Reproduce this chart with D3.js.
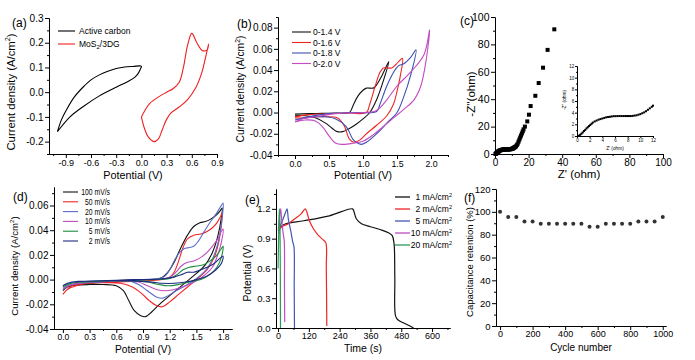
<!DOCTYPE html>
<html><head><meta charset="utf-8">
<script src="https://cdn.jsdelivr.net/npm/d3@7"></script>
<style>
body{margin:0;background:#fff}
svg text{font-family:"Liberation Sans",Arial,sans-serif;fill:#000}
.domain,.tick line{stroke:#000;stroke-width:1}
</style>
</head><body>
<svg id="chart" width="695" height="360"></svg>
<script>
// ---------------- DATA ----------------
// (a) CV curves [potential V, current density A/cm2]
const aNames = ["Active carbon", "MoS2/3DG"];
const aCarbon = [[-1.0,-0.16],[-0.95,-0.11],[-0.89,-0.07],[-0.8,-0.02],[-0.69,0.022],[-0.6,0.05],[-0.5,0.07],[-0.4,0.085],[-0.3,0.096],[-0.2,0.102],[-0.1,0.104],[0.0,0.105],
  [-0.01,0.095],[-0.04,0.075],[-0.08,0.06],[-0.15,0.045],[-0.3,0.02],[-0.5,-0.015],[-0.7,-0.06],[-0.85,-0.1],[-1.0,-0.16]];
const aMoS2 = [[0.0,-0.1],[0.03,-0.14],[0.08,-0.18],[0.15,-0.2],[0.2,-0.19],[0.25,-0.15],[0.3,-0.11],[0.35,-0.085],[0.45,-0.06],[0.55,-0.03],[0.65,0.02],[0.72,0.08],[0.77,0.15],[0.8,0.195],
  [0.78,0.17],[0.72,0.17],[0.66,0.2],[0.6,0.238],[0.55,0.19],[0.5,0.1],[0.45,0.04],[0.38,0.015],[0.3,0.0],[0.2,-0.02],[0.1,-0.045],[0.04,-0.075],[0.0,-0.1]];
// (b) CV at different windows
const bNames = ["0-1.4 V", "0-1.6 V", "0-1.8 V", "0-2.0 V"];
const b14 = [[0,-0.0015],[0.2,-0.001],[0.4,-0.0008],[0.6,-0.0005],[0.8,0.0],[0.85,0.006],[0.92,0.015],[1.0,0.021],[1.05,0.023],[1.15,0.023],[1.2,0.026],[1.28,0.035],[1.38,0.048],
  [1.3,0.03],[1.2,0.012],[1.1,0.0],[1.0,-0.006],[0.9,-0.011],[0.8,-0.015],[0.7,-0.018],[0.62,-0.018],[0.55,-0.015],[0.45,-0.01],[0.3,-0.005],[0.15,-0.003],[0.0,-0.003]];
const b16 = [[0,-0.004],[0.2,-0.002],[0.5,-0.001],[0.8,-0.0005],[1.05,0.0],[1.1,0.008],[1.18,0.025],[1.25,0.038],[1.3,0.042],[1.42,0.042],[1.48,0.045],[1.58,0.051],
  [1.55,0.035],[1.5,0.02],[1.45,0.008],[1.35,-0.003],[1.2,-0.012],[1.05,-0.02],[0.95,-0.026],[0.87,-0.028],[0.8,-0.025],[0.72,-0.012],[0.62,-0.005],[0.45,-0.004],[0.3,-0.004],[0.15,-0.005],[0.0,-0.005]];
const b18 = [[0,-0.007],[0.2,-0.004],[0.5,-0.001],[0.9,0.0],[1.2,0.001],[1.25,0.008],[1.35,0.025],[1.45,0.038],[1.52,0.044],[1.6,0.046],[1.7,0.052],[1.78,0.059],
  [1.7,0.035],[1.6,0.015],[1.5,0.0],[1.35,-0.01],[1.2,-0.02],[1.05,-0.028],[0.97,-0.03],[0.9,-0.028],[0.85,-0.025],[0.75,-0.013],[0.6,-0.006],[0.45,-0.004],[0.3,-0.004],[0.15,-0.005],[0.0,-0.007]];
const b20 = [[0,-0.009],[0.1,-0.006],[0.3,-0.004],[0.6,-0.001],[1.0,0.0],[1.2,0.002],[1.35,0.012],[1.5,0.025],[1.7,0.038],[1.9,0.055],[1.98,0.078],
  [1.93,0.05],[1.85,0.025],[1.75,0.012],[1.6,0.003],[1.45,-0.005],[1.3,-0.013],[1.15,-0.021],[1.0,-0.027],[0.85,-0.029],[0.7,-0.03],[0.6,-0.029],[0.5,-0.022],[0.4,-0.013],[0.3,-0.008],[0.15,-0.007],[0.0,-0.009]];
// (c) Nyquist plot [Z', -Z'']
const eisRe = [0.3,0.5,0.7,0.9,1.1,1.3,1.5,1.7,1.9,2.1,2.3,2.5,2.8,3.1,3.4,3.7,4.0,4.3,4.6,4.9,5.2,5.5,5.8,6.1,6.4,6.7,7.0,7.3,7.6,7.9,8.2,8.5,8.8,9.1,9.4,9.7,10.0,10.3,10.6,10.9,11.2,11.5,11.8,12.0,
  12.5,13.0,13.5,14.0,14.5,15.0,15.5,16.0,16.5,17.0,17.8,19.2,20.2,21.2,24.0,26.0,28.6,31.3,35.3];
const eisIm = [0.05,0.2,0.4,0.6,0.85,1.05,1.3,1.5,1.7,1.9,2.1,2.3,2.5,2.65,2.8,2.9,3.0,3.1,3.2,3.25,3.3,3.35,3.4,3.4,3.42,3.42,3.42,3.42,3.42,3.42,3.42,3.42,3.45,3.5,3.55,3.65,3.75,3.9,4.05,4.25,4.5,4.75,5.0,5.2,
  5.6,6.5,7.5,9.0,10.5,12.0,13.5,15.0,16.5,18.0,20.0,23.8,28.7,35.0,42.5,51.8,63.0,76.0,91.0];
// (d) CV at different scan rates
const dNames = ["100 mV/s", "50 mV/s", "20 mV/s", "10 mV/s", "5 mV/s", "2 mV/s"];
const d100 = [[0,-0.009],[0.05,-0.006],[0.15,-0.004],[0.3,-0.003],[0.5,-0.002],[0.7,-0.001],[0.9,0.0],[1.05,0.0005],[1.12,0.002],[1.18,0.006],[1.25,0.014],[1.32,0.025],[1.4,0.036],[1.47,0.043],[1.54,0.046],[1.6,0.047],[1.66,0.049],[1.72,0.052],[1.77,0.056],[1.79,0.058],
  [1.78,0.05],[1.74,0.035],[1.68,0.022],[1.6,0.012],[1.5,0.005],[1.4,-0.001],[1.3,-0.007],[1.2,-0.013],[1.1,-0.019],[1.0,-0.026],[0.93,-0.03],[0.87,-0.029],[0.8,-0.025],[0.74,-0.017],[0.68,-0.009],[0.6,-0.005],[0.45,-0.004],[0.3,-0.004],[0.15,-0.0045],[0.05,-0.006],[0,-0.009]];
const d50 = [[0,-0.012],[0.05,-0.008],[0.15,-0.005],[0.3,-0.003],[0.6,-0.002],[0.9,-0.001],[1.1,0.0],[1.2,0.002],[1.25,0.006],[1.3,0.015],[1.35,0.026],[1.4,0.033],[1.47,0.036],[1.55,0.037],[1.62,0.039],[1.68,0.042],[1.73,0.046],[1.77,0.051],[1.79,0.054],
  [1.78,0.045],[1.75,0.03],[1.7,0.018],[1.62,0.008],[1.5,0.0],[1.4,-0.006],[1.3,-0.012],[1.2,-0.018],[1.12,-0.022],[1.05,-0.021],[0.97,-0.017],[0.88,-0.011],[0.78,-0.006],[0.65,-0.003],[0.45,-0.0025],[0.25,-0.003],[0.1,-0.005],[0,-0.012]];
const d20 = [[0,-0.008],[0.1,-0.004],[0.3,-0.002],[0.6,-0.001],[0.9,0.0],[1.1,0.001],[1.15,0.003],[1.2,0.008],[1.25,0.015],[1.3,0.021],[1.36,0.025],[1.42,0.026],[1.47,0.027],[1.52,0.031],[1.58,0.038],[1.65,0.046],[1.72,0.053],[1.78,0.06],[1.8,0.062],
  [1.79,0.05],[1.76,0.035],[1.7,0.02],[1.62,0.009],[1.52,0.002],[1.4,-0.004],[1.25,-0.01],[1.12,-0.015],[1.05,-0.014],[0.95,-0.009],[0.85,-0.004],[0.75,-0.001],[0.6,-0.001],[0.4,-0.002],[0.2,-0.003],[0.05,-0.005],[0,-0.008]];
const d10 = [[0,-0.007],[0.1,-0.004],[0.3,-0.002],[0.6,-0.001],[0.9,0.0],[1.1,0.0005],[1.2,0.002],[1.27,0.006],[1.33,0.011],[1.4,0.014],[1.47,0.015],[1.55,0.018],[1.62,0.022],[1.68,0.027],[1.74,0.033],[1.78,0.039],[1.8,0.041],
  [1.78,0.03],[1.74,0.02],[1.68,0.01],[1.6,0.004],[1.5,-0.001],[1.38,-0.005],[1.25,-0.008],[1.15,-0.009],[1.05,-0.008],[0.95,-0.005],[0.85,-0.002],[0.7,-0.001],[0.5,-0.0015],[0.3,-0.002],[0.1,-0.004],[0,-0.007]];
const d5 = [[0,-0.006],[0.1,-0.003],[0.3,-0.0015],[0.7,-0.0005],[1.0,0.0],[1.2,0.001],[1.28,0.004],[1.35,0.008],[1.42,0.01],[1.5,0.011],[1.58,0.012],[1.65,0.015],[1.72,0.019],[1.77,0.024],[1.8,0.027],
  [1.78,0.018],[1.73,0.01],[1.65,0.004],[1.55,0.0],[1.42,-0.002],[1.3,-0.004],[1.18,-0.005],[1.08,-0.004],[0.95,-0.002],[0.8,-0.001],[0.5,-0.001],[0.25,-0.002],[0.08,-0.003],[0,-0.006]];
const d2 = [[0,-0.005],[0.1,-0.002],[0.4,-0.001],[0.8,0.0],[1.1,0.0005],[1.25,0.002],[1.33,0.004],[1.4,0.006],[1.47,0.006],[1.55,0.008],[1.62,0.01],[1.7,0.013],[1.76,0.017],[1.8,0.019],
  [1.78,0.013],[1.72,0.008],[1.62,0.003],[1.5,0.0],[1.38,-0.002],[1.25,-0.003],[1.12,-0.003],[1.0,-0.002],[0.8,-0.001],[0.5,-0.001],[0.2,-0.0015],[0.05,-0.003],[0,-0.005]];
// (e) galvanostatic charge/discharge [time s, potential V]
const eNames = ["1 mA/cm", "2 mA/cm", "5 mA/cm", "10 mA/cm", "20 mA/cm"];
const e1 = [[2,0.98],[10,1.02],[30,1.05],[100,1.08],[200,1.13],[290,1.2],[296,1.17],[305,1.1],[325,1.05],[360,1.02],[400,0.99],[430,0.96],[445,0.93],[452,0.85],[455,0.5],[458,0.12],[468,0.08],[490,0.05],[510,0.025],[528,0.0]];
const e2 = [[2,0.98],[15,1.02],[40,1.05],[65,1.1],[90,1.15],[106,1.2],[112,1.17],[122,1.08],[138,1.0],[158,0.93],[175,0.89],[186,0.86],[188,0.6],[190,0.02]];
const e5 = [[2,0.95],[10,1.04],[20,1.1],[30,1.17],[35,1.2],[40,1.1],[50,0.97],[57,0.87],[62,0.82],[63,0.4],[64,0.0]];
const e10 = [[1,0.98],[5,1.1],[10,1.2],[14,1.1],[20,0.95],[24,0.88],[25,0.4],[26,0.06]];
const e20 = [[0,0.6],[3,1.0],[5,1.2],[7,1.1],[8,0.9],[9,0.5],[9.5,0.0]];
// (f) cycling stability
const fCycles = [0,50,100,150,200,250,300,350,400,450,500,550,600,650,700,750,800,850,900,950,1000];
const fRetention = [100,95.5,95.5,91.5,91.5,89.5,89.5,89.5,89.5,89.5,89.5,87,87,89.5,89.5,89.5,89.5,91.5,91.5,91.5,95.5];

// ---------------- DRAWING ----------------
const svg = d3.select("#chart");
const f1 = d => (Math.abs(d) < 1e-9 ? 0 : d).toFixed(1);
const f2 = d => (Math.abs(d) < 1e-9 ? 0 : d).toFixed(2);
const f0 = d => d3.format("d")(Math.round(d));
const rng = (a, b, s) => d3.range(Math.round((b - a) / s) + 1).map(i => a + i * s);

function panel(o) {
  const g = svg.append("g");
  const x = d3.scaleLinear().domain(o.xd).range(o.xr);
  const y = d3.scaleLinear().domain(o.yd).range(o.yr);
  const bx = o.yr[0], lx = o.xr[0];
  g.append("g").attr("transform", `translate(0,${bx})`)
    .call(d3.axisBottom(x).tickValues(o.xm).tickSize(o.ms || 2).tickFormat("").tickSizeOuter(0));
  const ax = g.append("g").attr("transform", `translate(0,${bx})`)
    .call(d3.axisBottom(x).tickValues(o.xt).tickSize(o.ts || 4).tickPadding(o.xp || 1.5).tickFormat(o.xf).tickSizeOuter(0));
  ax.selectAll("text").style("font-size", (o.xfs || 9) + "px");
  g.append("g").attr("transform", `translate(${lx},0)`)
    .call(d3.axisLeft(y).tickValues(o.ym).tickSize(o.ms || 2).tickFormat("").tickSizeOuter(0));
  const ay = g.append("g").attr("transform", `translate(${lx},0)`)
    .call(d3.axisLeft(y).tickValues(o.yt).tickSize(o.ts || 4).tickPadding(o.yp || 1.5).tickFormat(o.yf).tickSizeOuter(0));
  ay.selectAll("text").style("font-size", (o.yfs || 10) + "px");
  g.selectAll(".domain").attr("stroke-width", o.sw || 1);
  g.selectAll(".tick line").attr("stroke-width", o.sw || 1);
  if (o.xtitle) {
    g.append("text").attr("x", (o.xr[0] + o.xr[1]) / 2).attr("y", o.xty).attr("text-anchor", "middle")
      .style("font-size", o.xts + "px").text(o.xtitle);
  }
  if (o.ytitle) {
    const t = g.append("text").attr("transform", `translate(${o.ytx},${o.yty}) rotate(-90)`).attr("text-anchor", "middle")
      .style("font-size", o.yts + "px");
    if (o.ysup) { t.append("tspan").text(o.ytitle); t.append("tspan").attr("dy", -o.yts * 0.4).style("font-size", (o.yts * 0.65) + "px").text("2"); t.append("tspan").attr("dy", o.yts * 0.4).text(")"); }
    else t.text(o.ytitle);
  }
  if (o.label) {
    g.append("text").attr("x", o.label[0]).attr("y", o.label[1]).style("font-size", "12px").text(o.label[2]);
  }
  return { g, x, y };
}
function drawLine(p, data, color, w) {
  p.g.append("path").datum(data).attr("fill", "none").attr("stroke", color).attr("stroke-width", w || 1.1)
    .attr("stroke-linejoin", "round")
    .attr("d", d3.line().x(d => p.x(d[0])).y(d => p.y(d[1])).curve(d3.curveCatmullRom.alpha(0.5)));
}

// ---- (a)
const pa = panel({ xd: [-1.1, 0.9], xr: [49, 217], yd: [-0.25, 0.3], yr: [154, 18],
  xt: rng(-0.9, 0.9, 0.3), xm: rng(-1.05, 0.75, 0.3), yt: rng(-0.2, 0.3, 0.1), ym: rng(-0.25, 0.25, 0.1),
  xf: f1, yf: f1, xfs: 9, yfs: 10, xtitle: "Potential (V)", xty: 178.5, xts: 10.8,
  ytitle: "Current density (A/cm", ysup: true, ytx: 15, yty: 92, yts: 11.3, label: [12, 27, "(a)"] });
drawLine(pa, aCarbon, "#000");
drawLine(pa, aMoS2, "#f01e1e");
[["#000", aNames[0]], ["#f01e1e", null]].forEach((r, i) => {
  const yy = 31 + i * 13;
  pa.g.append("line").attr("x1", 58).attr("x2", 75).attr("y1", yy).attr("y2", yy).attr("stroke", r[0]).attr("stroke-width", 1.1);
  const t = pa.g.append("text").attr("x", 79).attr("y", yy + 3).style("font-size", "8.5px");
  if (r[1]) t.text(r[1]);
  else { t.append("tspan").text("MoS"); t.append("tspan").attr("dy", 2).style("font-size", "6px").text("2"); t.append("tspan").attr("dy", -2).text("/3DG"); }
});

// ---- (b)
const pb = panel({ xd: [-0.25, 2.25], xr: [278, 448], yd: [-0.04, 0.09], yr: [155, 17],
  xt: rng(0, 2, 0.5), xm: rng(-0.25, 2.25, 0.5), yt: rng(-0.04, 0.08, 0.02), ym: rng(-0.03, 0.09, 0.02),
  xf: f1, yf: f2, xfs: 8.8, yfs: 10, xtitle: "Potential (V)", xty: 178.5, xts: 10.5,
  ytitle: "Current density (A/cm", ysup: true, ytx: 244, yty: 89, yts: 10.3, label: [237, 28, "(b)"] });
const bColors = ["#111", "#f02424", "#3c4fb0", "#c34bc3"];
[b14, b16, b18, b20].forEach((d, i) => drawLine(pb, d, bColors[i]));
bNames.forEach((n, i) => {
  const yy = 32 + i * 10.5;
  pb.g.append("line").attr("x1", 292).attr("x2", 311).attr("y1", yy).attr("y2", yy).attr("stroke", bColors[i]).attr("stroke-width", 1.1);
  pb.g.append("text").attr("x", 313).attr("y", yy + 3).style("font-size", "8.5px").text(n);
});

// ---- (c)
const pc = panel({ xd: [0, 100], xr: [495, 663], yd: [0, 100], yr: [154, 17],
  xt: rng(0, 100, 20), xm: rng(10, 90, 20), yt: rng(0, 100, 20), ym: rng(10, 90, 20),
  xf: f0, yf: f0, xfs: 10, xp: 1, yfs: 10.5, xtitle: "Z' (ohm)", xty: 178, xts: 11.5,
  ytitle: "-Z''(ohm)", ytx: 475, yty: 94, yts: 11.5, label: [460, 25, "(c)"] });
const eis = eisRe.map((v, i) => [v, eisIm[i]]);
pc.g.selectAll("rect.m").data(eis).join("rect").attr("class", "m")
  .attr("x", d => pc.x(d[0]) - 2).attr("y", d => pc.y(d[1]) - 2).attr("width", 4).attr("height", 4).attr("fill", "#000");
// inset
const pci = panel({ xd: [0, 12], xr: [577, 653], yd: [0, 12], yr: [136, 66],
  xt: rng(0, 12, 2), xm: rng(1, 11, 2), yt: rng(0, 12, 2), ym: rng(1, 11, 2),
  xf: f0, yf: f0, xfs: 4.5, yfs: 4.5, ts: 2, ms: 1, xp: 0.8, yp: 0.8, sw: 0.7,
  xtitle: "Z' (ohm)", xty: 149.5, xts: 4.8, ytitle: "-Z'' (ohm)", ytx: 566, yty: 100, yts: 4.8 });
pci.g.selectAll("rect.m").data(eis.filter(d => d[0] <= 12)).join("rect").attr("class", "m")
  .attr("x", d => pci.x(d[0]) - 1).attr("y", d => pci.y(d[1]) - 1).attr("width", 2).attr("height", 2).attr("fill", "#000");

// ---- (d)
const pd = panel({ xd: [-0.1, 1.9], xr: [54, 232], yd: [-0.04, 0.075], yr: [329, 187],
  xt: rng(0, 1.8, 0.3), xm: rng(0.15, 1.65, 0.3), yt: rng(-0.04, 0.06, 0.02), ym: rng(-0.03, 0.07, 0.02),
  xf: f1, yf: f2, xfs: 8.5, xp: 1, yfs: 10, xtitle: "Potential (V)", xty: 352.5, xts: 10.2,
  ytitle: "Current density (A/cm", ysup: true, ytx: 18, yty: 266, yts: 9.6, label: [13, 201, "(d)"] });
const dColors = ["#111", "#f02424", "#5a6cc8", "#c04cc0", "#1e8c3c", "#1c2a80"];
[d100, d50, d20, d10, d5, d2].forEach((d, i) => drawLine(pd, d, dColors[i]));
dNames.forEach((n, i) => {
  const yy = 192 + i * 9.8;
  pd.g.append("line").attr("x1", 63).attr("x2", 78).attr("y1", yy).attr("y2", yy).attr("stroke", dColors[i]).attr("stroke-width", 1.1);
  pd.g.append("g").attr("transform", `translate(110,${yy + 3}) scale(0.8,1)`)
    .append("text").attr("text-anchor", "end").style("font-size", "8.5px").text(n);
});

// ---- (e)
const pe = panel({ xd: [-8, 670], xr: [276, 450], yd: [0, 1.4], yr: [328, 189],
  xt: rng(0, 600, 120), xm: rng(60, 660, 120), yt: rng(0, 1.2, 0.3), ym: rng(0.15, 1.35, 0.3),
  xf: f0, yf: f1, xfs: 9, xp: 1, yfs: 9.5, xtitle: "Time (s)", xty: 352, xts: 10.5,
  ytitle: "Potential (V)", ytx: 251, yty: 273, yts: 10.4, label: [245, 204, "(e)"] });
const eColors = ["#111", "#f02424", "#4456b8", "#c04cc0", "#2e9a5a"];
[e1, e2, e5, e10, e20].forEach((d, i) => drawLine(pe, d, eColors[i], 1.2));
eNames.forEach((n, i) => {
  const yy = 197 + i * 12;
  pe.g.append("line").attr("x1", 395).attr("x2", 410).attr("y1", yy).attr("y2", yy).attr("stroke", eColors[i]).attr("stroke-width", 1.3);
  const t = pe.g.append("text").attr("x", 452).attr("y", yy + 3).attr("text-anchor", "end").style("font-size", "8.5px");
  t.append("tspan").text(n);
  t.append("tspan").attr("dy", -3).style("font-size", "5.5px").text("2");
});

// ---- (f)
const pf = panel({ xd: [-25, 1020], xr: [496, 666], yd: [0, 120], yr: [326, 189],
  xt: rng(0, 1000, 200), xm: rng(100, 900, 200), yt: rng(0, 120, 20), ym: rng(10, 110, 20),
  xf: f0, yf: f0, xfs: 9, xp: 1, yfs: 9.5, xtitle: "Cycle number", xty: 351, xts: 10,
  ytitle: "Capacitance retention (%)", ytx: 473, yty: 262, yts: 9.5, label: [464, 202, "(f)"] });
pf.g.selectAll("circle").data(fCycles.map((c, i) => [c, fRetention[i]])).join("circle")
  .attr("cx", d => pf.x(d[0])).attr("cy", d => pf.y(d[1])).attr("r", 2).attr("fill", "#333");
</script>
</body></html>
